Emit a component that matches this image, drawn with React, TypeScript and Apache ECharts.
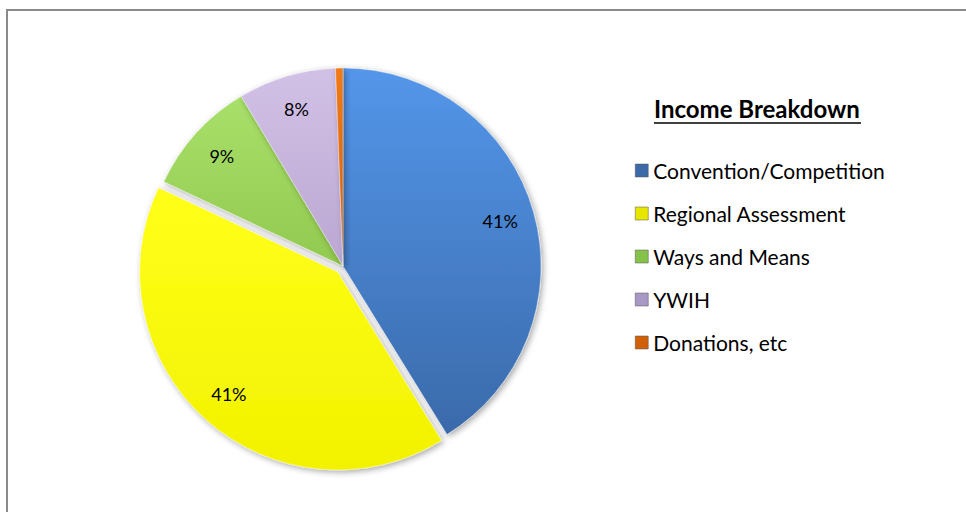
import React, { useEffect, useRef } from "react";
import * as echarts from "echarts";

const categories = ["Convention/Competition", "Regional Assessment", "Ways and Means", "YWIH", "Donations, etc"];
const values = [41.2, 40.8, 9.4, 8.0, 0.6];
const showLabel = [true, true, true, true, false];
const exploded = [false, true, false, false, false];
const topColors = ["#5496ea", "#ffff1a", "#a8e06a", "#d2c1e6", "#f07a1a"];
const bottomColors = ["#3a6aaa", "#f2f200", "#92c94f", "#bba7d2", "#d0600a"];
const legendColors = ["#3c6aa8", "#e6e600", "#86c24a", "#a898c4", "#d0600a"];
const chartTitle = "Income Breakdown";

const CX = 343;
const CY = 266;
const R = 198;

export default function App() {
  const ref = useRef<HTMLDivElement>(null);
  useEffect(() => {
    if (!ref.current) return;
    const chart = echarts.init(ref.current, null, { renderer: "svg" });
    const font = "Lato, 'Noto Sans', sans-serif";
    const mainData = categories.map((name, i) => ({
      name,
      value: values[i],
      selected: exploded[i],
      itemStyle: {
        color: new echarts.graphic.LinearGradient(0, 0, 0, 1, [
          { offset: 0, color: topColors[i] },
          { offset: 1, color: bottomColors[i] },
        ]),
      },
    }));
    const labelData = categories.map((name, i) => ({
      name,
      value: values[i],
      selected: exploded[i],
      label: { show: showLabel[i] },
    }));
    chart.setOption({
      animation: false,
      backgroundColor: "#ffffff",
      legend: {
        orient: "vertical",
        left: 630,
        top: 155,
        itemWidth: 13,
        itemHeight: 13,
        itemGap: 22,
        icon: "rect",
        selectedMode: false,
        textStyle: { fontFamily: font, fontSize: 21, color: "#000", lineHeight: 21, padding: [0, 0, 0, 0] },
        data: categories.map((name, i) => ({
          name,
          itemStyle: { color: legendColors[i], borderColor: "#555", borderWidth: 0.5 },
        })),
      },
      graphic: [
        {
          type: "rect",
          shape: { x: 7, y: 10, width: 1200, height: 800 },
          style: { fill: "none", stroke: "#8a8a8a", lineWidth: 2 },
          silent: true,
        },
        {
          type: "text",
          left: 654,
          top: 96,
          style: { text: chartTitle, font: `bold 24px ${font}`, fill: "#000" },
        },
        {
          type: "line",
          shape: { x1: 654, y1: 123, x2: 861, y2: 123 },
          style: { stroke: "#000", lineWidth: 1.5 },
        },
      ],
      series: [
        {
          type: "pie",
          center: [CX, CY],
          radius: [0, R],
          startAngle: 90,
          clockwise: true,
          selectedMode: "single",
          selectedOffset: 8,
          silent: true,
          emphasis: { disabled: true },
          label: { show: false },
          labelLine: { show: false },
          itemStyle: {
            borderColor: "rgba(255,255,255,0.35)",
            borderWidth: 1,
            shadowBlur: 6,
            shadowColor: "rgba(0,0,0,0.35)",
            shadowOffsetX: 2,
            shadowOffsetY: 2,
          },
          data: mainData,
        },
        {
          type: "pie",
          center: [CX, CY],
          radius: [R * 0.62, R],
          startAngle: 90,
          clockwise: true,
          selectedMode: "single",
          selectedOffset: 8,
          silent: true,
          emphasis: { disabled: true },
          itemStyle: { color: "rgba(0,0,0,0)" },
          labelLine: { show: false },
          label: {
            position: "inside",
            formatter: (p: any) => `${Math.round(p.percent)}%`,
            fontFamily: font,
            fontSize: 18,
            color: "#000",
          },
          data: labelData,
        },
      ],
    });
    return () => chart.dispose();
  }, []);
  return <div ref={ref} style={{ position: "absolute", left: 0, top: 0, width: 966, height: 512 }} />;
}
